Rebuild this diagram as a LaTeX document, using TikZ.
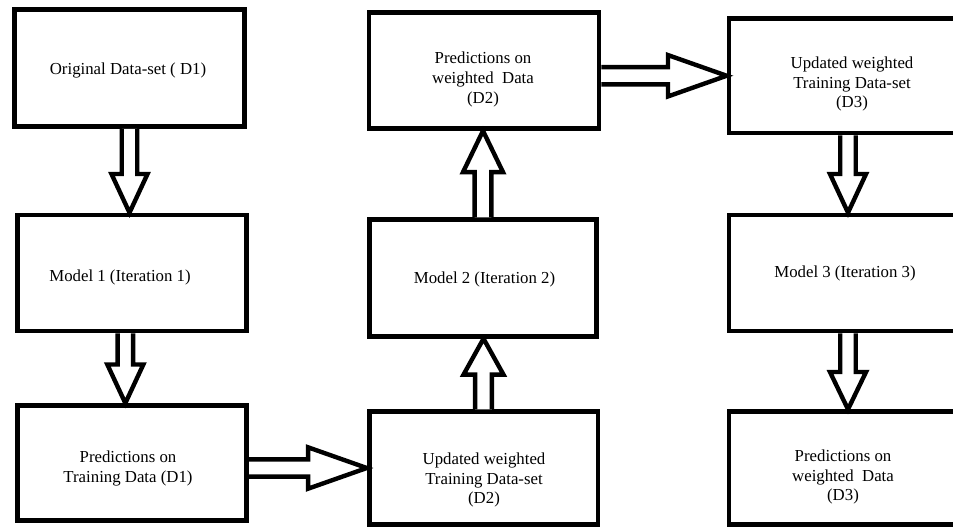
\documentclass[tikz,border=0pt]{standalone}
\usepackage{fontspec}
\setmainfont{Liberation Serif}
\usepackage{tikz}
\usetikzlibrary{arrows,arrows.meta,calc,positioning}
\def\shafthalf{5.8pt}

\begin{document}
\begin{tikzpicture}[x=0.75pt, y=-0.75pt, line join=miter]
            \tikzstyle{box}=[rectangle, draw=black, line width=3.5pt, inner sep=0pt]
            \tikzstyle{annot}=[align=center, inner sep=0pt, font=\fontsize{12.6}{14.8}\selectfont]
            \tikzset{fatarrow/.style n args={3}{draw=black, line width=3.3pt, fill=white,
                to path={($(\tikztostart)!#1!90:(\tikztotarget)$)
                  -- ($(\tikztotarget)!#3!(\tikztostart)!#1!90:(\tikztotarget)$)
                  -- ($(\tikztotarget)!#3!(\tikztostart)!#2!90:(\tikztotarget)$)
                  -- (\tikztotarget)
                  -- ($(\tikztotarget)!#3!(\tikztostart)!#2!-90:(\tikztotarget)$)
                  -- ($(\tikztotarget)!#3!(\tikztostart)!#1!-90:(\tikztotarget)$)
                  -- ($(\tikztostart)!#1!-90:(\tikztotarget)$)}}}

            % page frame, the right column runs past it
            \path[use as bounding box, clip] (0,0) rectangle (953,529);

            % Draw the boxes
            \foreach \n/\x/\y/\bw/\bh in {A/129.5/68/172.5/87.75, B/132/273/172/87,
                C/132/463/172/86.25, D/483.5/468/171.5/84.5,
                E/483/278/170.5/87.5, F/484/70.5/172.5/87,
                G/848/75.75/178.5/86, H/848/273/178.5/87, I/848/468/178.5/84.5}
                \node[box, minimum width=\bw pt, minimum height=\bh pt] (\n) at (\x,\y) {};

            % Texts of the boxes
            \foreach \n/\x/\y/\txt in {A/128/70/{Original Data-set ( D1)},
                B/120/277/{Model 1 (Iteration 1)},
                C/128/468.5/{Predictions on\\Training Data (D1)},
                D/484/480/{Updated weighted\\Training Data-set\\(D2)},
                E/484.5/279/{Model 2 (Iteration 2)},
                F/483/79.5/{Predictions on\\weighted\ \ Data\\(D2)},
                G/852/84/{Updated weighted\\Training Data-set\\(D3)},
                H/845/273/{Model 3 (Iteration 3)},
                I/843/477/{Predictions on\\weighted\ \ Data\\(D3)}}
                \node[annot] (\n-t) at (\x,\y) {\txt};

            % Downward arrows
            \coordinate (bc) at ([xshift=-5pt]B.south);
            \draw[fatarrow={\shafthalf}{13.5pt}{29pt}] (A.south) to (A.south |- B.north);
            \draw[fatarrow={\shafthalf}{13.5pt}{29pt}] (bc) to (bc |- C.north);
            \draw[fatarrow={\shafthalf}{13.5pt}{29pt}] (G.south) to (G.south |- H.north);
            \draw[fatarrow={\shafthalf}{13.5pt}{28pt}] (H.south) to (H.south |- I.north);

            % Upward arrows
            \draw[fatarrow={6.3pt}{15pt}{27pt}] (D.north) to (D.north |- E.south);
            \draw[fatarrow={6.3pt}{15pt}{31pt}] (E.north) to (E.north |- F.south);

            % Sideways arrows
            \draw[fatarrow={6.5pt}{15.5pt}{44pt}] (C.east |- D.west) to (D.west);
            \draw[fatarrow={6.5pt}{15.5pt}{44pt}] (F.east |- G.west) to (G.west);

        \end{tikzpicture}
\end{document}
